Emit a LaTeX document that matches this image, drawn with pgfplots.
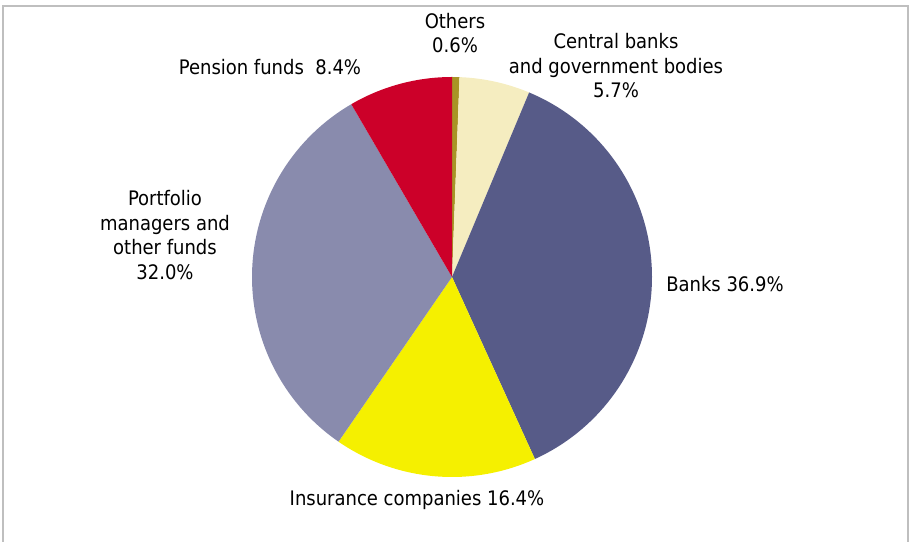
\documentclass[border=0pt]{standalone}
\usepackage{pgfplots}
\pgfplotsset{compat=1.18}
\usepackage{fontspec}
\setmainfont{DejaVu Sans Condensed}
\definecolor{cOthers}{HTML}{A89425}
\definecolor{cCentral}{HTML}{F5EDC0}
\definecolor{cBanks}{HTML}{575B88}
\definecolor{cInsur}{HTML}{F5F000}
\definecolor{cPortf}{HTML}{898BAD}
\definecolor{cPension}{HTML}{CC0029}
% data (percent shares, clockwise from 12 o'clock)
\newcommand\vOthers{0.6}
\newcommand\vCentral{5.7}
\newcommand\vBanks{36.9}
\newcommand\vInsur{16.4}
\newcommand\vPortf{32.0}
\newcommand\vPension{8.4}
\pgfmathsetmacro\aA{90}
\pgfmathsetmacro\aB{\aA-3.6*\vOthers}
\pgfmathsetmacro\aC{\aB-3.6*\vCentral}
\pgfmathsetmacro\aD{\aC-3.6*\vBanks}
\pgfmathsetmacro\aE{\aD-3.6*\vInsur}
\pgfmathsetmacro\aF{\aE-3.6*\vPortf}
\pgfmathsetmacro\aG{\aF-3.6*\vPension}
\newcommand\cx{452}
\newcommand\cy{265}
\newcommand\R{200}
\begin{document}
\begin{tikzpicture}
\begin{axis}[
  width=910pt, height=542pt, scale only axis,
  xmin=0, xmax=910, ymin=0, ymax=542,
  hide axis, clip=false,
  every axis plot/.append style={draw=none, samples=80, smooth=false},
]
\path (axis cs:0,0) (axis cs:910,542);
\draw[color=black!25, line width=2pt] (axis cs:3,0) -- (axis cs:3,536) -- (axis cs:908,536) -- (axis cs:908,0);
\addplot[fill=cOthers, domain=\aB:\aA] ({\cx+\R*cos(x)},{\cy+\R*sin(x)}) -- (axis cs:\cx,\cy) -- cycle;
\addplot[fill=cCentral, domain=\aC:\aB] ({\cx+\R*cos(x)},{\cy+\R*sin(x)}) -- (axis cs:\cx,\cy) -- cycle;
\addplot[fill=cBanks, domain=\aD:\aC] ({\cx+\R*cos(x)},{\cy+\R*sin(x)}) -- (axis cs:\cx,\cy) -- cycle;
\addplot[fill=cInsur, domain=\aE:\aD] ({\cx+\R*cos(x)},{\cy+\R*sin(x)}) -- (axis cs:\cx,\cy) -- cycle;
\addplot[fill=cPortf, domain=\aF:\aE] ({\cx+\R*cos(x)},{\cy+\R*sin(x)}) -- (axis cs:\cx,\cy) -- cycle;
\addplot[fill=cPension, domain=\aG:\aF] ({\cx+\R*cos(x)},{\cy+\R*sin(x)}) -- (axis cs:\cx,\cy) -- cycle;
\tikzset{lbl/.style={font=\fontsize{20}{24.5}\selectfont, align=center, inner sep=0pt, text=black}}
\node[lbl] at (axis cs:455,509) {Others\\0.6\%};
\node[lbl] at (axis cs:616,476) {Central banks\\and government bodies\\5.7\%};
\node[lbl] at (axis cs:270,475) {Pension funds\ \ 8.4\%};
\node[lbl] at (axis cs:165,307) {Portfolio\\managers and\\other funds\\32.0\%};
\node[lbl] at (axis cs:725,258) {Banks 36.9\%};
\node[lbl] at (axis cs:417,42) {Insurance companies 16.4\%};
\end{axis}
\end{tikzpicture}
\end{document}
